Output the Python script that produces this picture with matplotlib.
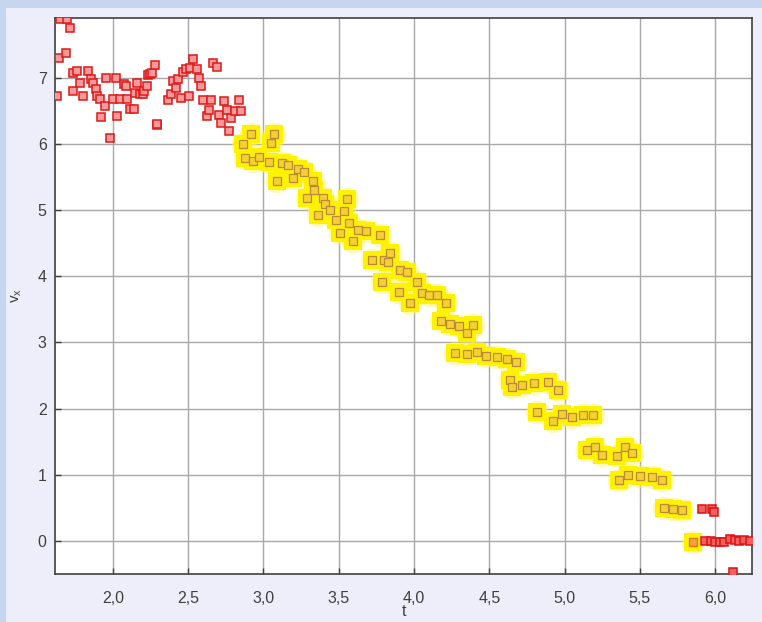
import matplotlib
matplotlib.use("Agg")
import matplotlib.pyplot as plt
from matplotlib.patches import Rectangle
from matplotlib.ticker import FuncFormatter, MultipleLocator

plt.rcParams["font.family"] = ["Liberation Sans", "DejaVu Sans"]

# red points, early part (before the highlighted section)
t_red = [1.648, 1.695, 1.714, 1.641, 1.688, 1.628, 1.734, 1.761, 1.734, 1.781,
         1.801, 1.834, 1.854, 1.867, 1.887, 1.894, 1.914, 1.921, 1.947, 1.954,
         1.980, 2.000, 2.020, 2.027, 2.047, 2.073, 2.086, 2.093, 2.113, 2.140,
         2.146, 2.160, 2.180, 2.199, 2.206, 2.226, 2.232, 2.246, 2.262, 2.282,
         2.290, 2.295, 2.365, 2.385, 2.398, 2.418, 2.432, 2.450, 2.465, 2.485,
         2.505, 2.510, 2.530, 2.558, 2.571, 2.584, 2.598, 2.624, 2.638, 2.651,
         2.664, 2.691, 2.704, 2.717, 2.737, 2.757, 2.770, 2.784, 2.810, 2.837,
         2.850]
v_red = [7.89, 7.89, 7.75, 7.30, 7.38, 6.73, 7.07, 7.10, 6.80, 6.92,
         6.73, 7.10, 6.98, 6.92, 6.83, 6.73, 6.68, 6.41, 6.58, 7.00,
         6.09, 6.68, 7.00, 6.43, 6.68, 6.90, 6.87, 6.68, 6.53, 6.53,
         6.77, 6.92, 6.76, 6.76, 6.80, 6.87, 7.04, 7.06, 7.07, 7.19,
         6.29, 6.30, 6.67, 6.76, 6.95, 6.85, 6.98, 6.70, 7.09, 7.13,
         6.73, 7.15, 7.28, 7.13, 7.00, 6.87, 6.67, 6.43, 6.52, 6.67,
         7.23, 7.17, 6.44, 6.32, 6.65, 6.52, 6.20, 6.39, 6.50, 6.67,
         6.50]

# highlighted (yellow) points
t_hl = [2.863, 2.876, 2.916, 2.930, 2.970, 3.036, 3.050, 3.070, 3.090, 3.120,
        3.160, 3.195, 3.230, 3.268, 3.288, 3.328, 3.335, 3.361, 3.394, 3.408,
        3.440, 3.480, 3.507, 3.534, 3.554, 3.567, 3.594, 3.630, 3.680, 3.720,
        3.773, 3.786, 3.800, 3.826, 3.840, 3.900, 3.906, 3.952, 3.970, 4.020,
        4.050, 4.100, 4.150, 4.210, 4.180, 4.240, 4.300, 4.350, 4.390, 4.270,
        4.350, 4.420, 4.480, 4.550, 4.620, 4.680, 4.636, 4.650, 4.720, 4.800,
        4.890, 4.955, 4.820, 4.920, 4.980, 5.050, 5.120, 5.187, 5.147, 5.200,
        5.250, 5.350, 5.400, 5.446, 5.360, 5.420, 5.500, 5.580, 5.650, 5.660,
        5.720, 5.780]
v_hl = [6.00, 5.79, 6.15, 5.75, 5.80, 5.73, 6.02, 6.15, 5.44, 5.72,
        5.68, 5.49, 5.62, 5.57, 5.19, 5.44, 5.31, 4.92, 5.19, 5.10,
        5.00, 4.85, 4.66, 4.99, 5.17, 4.80, 4.54, 4.70, 4.68, 4.24,
        4.62, 3.92, 4.25, 4.21, 4.36, 3.76, 4.09, 4.07, 3.59, 3.91,
        3.75, 3.72, 3.72, 3.60, 3.32, 3.28, 3.25, 3.15, 3.26, 2.84,
        2.82, 2.85, 2.80, 2.78, 2.75, 2.70, 2.43, 2.32, 2.35, 2.38,
        2.41, 2.28, 1.95, 1.82, 1.92, 1.88, 1.90, 1.90, 1.37, 1.42,
        1.30, 1.28, 1.42, 1.33, 0.92, 1.00, 0.98, 0.96, 0.92, 0.50,
        0.48, 0.46]

# the orange point at the end of the highlighted part
t_orange = [5.85]
v_orange = [-0.01]

# red points, late part
t_end = [5.91, 5.98, 5.99, 5.93, 5.97, 6.00, 6.03, 6.06, 6.10, 6.13, 6.16, 6.19, 6.23, 6.117]
v_end = [0.48, 0.48, 0.44, 0.00, 0.00, -0.01, -0.02, -0.01, 0.03, 0.01, 0.00, 0.01, 0.00, -0.47]

fig = plt.figure(figsize=(7.62, 6.22), dpi=100, facecolor="#c6d6ef")
fig.patches.append(Rectangle((6 / 762, 0), 1, (622 - 8) / 622, transform=fig.transFigure,
                             facecolor="#eeeefa", edgecolor="none", zorder=-5))

ax = fig.add_axes([55 / 762, (622 - 574) / 622, (752 - 55) / 762, (574 - 18) / 622])
ax.set_zorder(2)
ax.set_facecolor("white")

# yellow glow behind the highlighted points
t_glow = t_hl + t_orange
v_glow = v_hl + v_orange
ax.plot(t_glow, v_glow, "o", ms=17, color="#fff36a", alpha=0.45, mew=0, zorder=2)
ax.plot(t_glow, v_glow, "s", ms=12.5, color="#fff200", mew=0, zorder=2)

ax.plot(t_hl, v_hl, "s", ms=5.8, mfc="#f5d030", mec="#b88a3a", mew=0.9, zorder=3)
ax.plot(t_orange, v_orange, "s", ms=5.8, mfc="#f2a040", mec="#e07810", mew=1.0, zorder=3)
ax.plot(t_red, v_red, "s", ms=5.8, mfc="#f49a9a", mec="#e01818", mew=1.1, zorder=3)
ax.plot(t_end, v_end, "s", ms=5.8, mfc="#f06060", mec="#e01010", mew=1.1, zorder=3)

ax.set_xlim(1.615, 6.245)
ax.set_ylim(-0.5, 7.905)
ax.xaxis.set_major_locator(MultipleLocator(0.5))
ax.yaxis.set_major_locator(MultipleLocator(1))
ax.xaxis.set_major_formatter(FuncFormatter(lambda x, p: f"{x:.1f}".replace(".", ",")))
ax.yaxis.set_major_formatter(FuncFormatter(lambda y, p: f"{y:.0f}"))

ax.grid(True, color="#a8a8a8", lw=1.0)
ax.set_axisbelow(True)
for s in ax.spines.values():
    s.set_color("#404040")
    s.set_linewidth(1.2)

ax.tick_params(axis="both", direction="in", length=4, width=1, color="#404040",
               labelsize=11.5, labelcolor="#404040")
ax.tick_params(axis="x", pad=12)
ax.tick_params(axis="y", pad=6)

ax.set_xlabel("t", fontsize=11.5, color="#404040", labelpad=-1)
ax.set_ylabel("v$_\\mathregular{x}$", fontsize=11, color="#404040", labelpad=10)

fig.savefig("out.png", dpi=100, facecolor=fig.get_facecolor())
